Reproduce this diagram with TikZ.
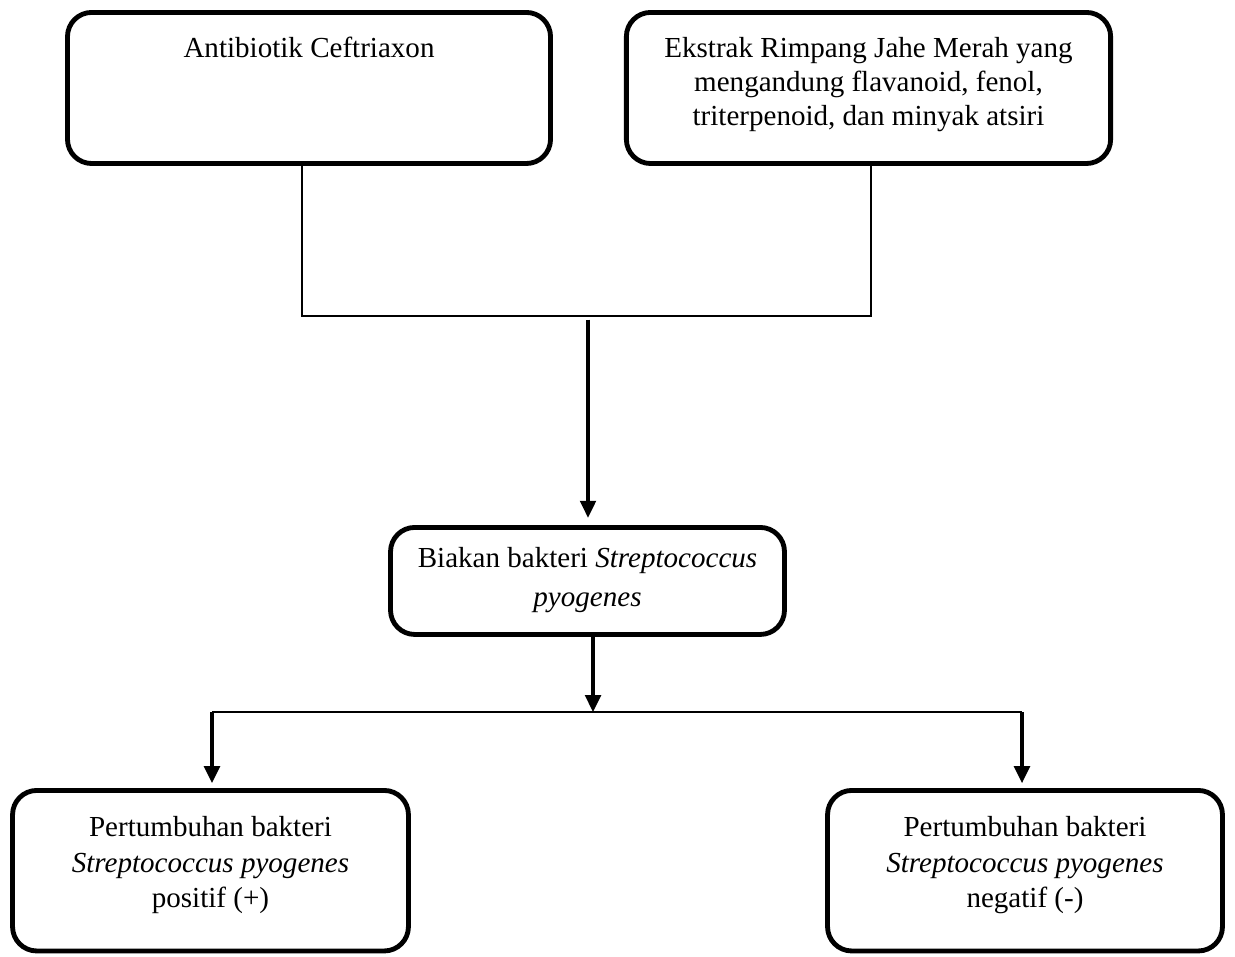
\documentclass[tikz,border=0pt]{standalone}
\usepackage{fontspec}
\setmainfont{Liberation Serif}
\usepackage{tikz}
\usetikzlibrary{arrows.meta, positioning, calc}
\tikzset{
    box/.style={
        rectangle,
        rounded corners=10pt,
        draw=black,
        line width=2pt,
        align=center,
        inner xsep=0pt,
        inner ysep=0pt,
        anchor=north,
        font=\fontsize{12}{14}\selectfont,
    },
    conn/.style={
        draw=black,
        line width=0.8pt,
    },
    arr/.style={
        draw=black,
        line width=1.3pt,
        -{Triangle[width=6.5pt,length=7pt]},
    },
}

\begin{document}
\begin{tikzpicture}[x=0.413pt, y=-0.413pt]
      \useasboundingbox (0,0) rectangle (1235,956);

      \node[box, minimum width=199.5pt, text height=18.8pt, text depth=43.6pt] (ab) at (309,10) {Antibiotik Ceftriaxon};

      \node[box, minimum width=200pt, text height=46.8pt, text depth=15.6pt] (jahe) at (868.5,10) {Ekstrak Rimpang Jahe Merah yang\\ mengandung flavanoid, fenol,\\ triterpenoid, dan minyak atsiri};

      \node[box, minimum width=162.7pt, text height=32.7pt, text depth=11.5pt, font=\fontsize{12}{16}\selectfont] (biakan) at (587.5,525) {Biakan bakteri \textit{Streptococcus}\\ \textit{pyogenes}};

      \node[box, minimum width=163.5pt, text height=48.2pt, text depth=18.1pt, font=\fontsize{12}{14.5}\selectfont] (pos) at (210.5,788) {Pertumbuhan bakteri\\ \textit{Streptococcus pyogenes}\\ positif (+)};

      \node[box, minimum width=163.1pt, text height=48.2pt, text depth=18.1pt, font=\fontsize{12}{14.5}\selectfont] (neg) at (1025,788) {Pertumbuhan bakteri\\ \textit{Streptococcus pyogenes}\\ negatif (-)};

      \coordinate (gabung) at (588,316);
      \coordinate (cabang) at (593,712);
      \coordinate (kiri) at (212,712);
      \coordinate (kanan) at (1022,712);

      \draw[conn] ([xshift=-3pt]ab.south) |- (gabung) -| ([xshift=1pt]jahe.south);
      \draw[arr, shorten >=3pt] ([yshift=-1.5pt]gabung) -- (gabung |- biakan.north);
      \draw[arr] (cabang |- biakan.south) -- (cabang);
      \draw[conn] (kiri) -- (kanan);
      \draw[arr, shorten >=2pt] (kiri) -- (kiri |- pos.north);
      \draw[arr, shorten >=2pt] (kanan) -- (kanan |- neg.north);

    \end{tikzpicture}
\end{document}
